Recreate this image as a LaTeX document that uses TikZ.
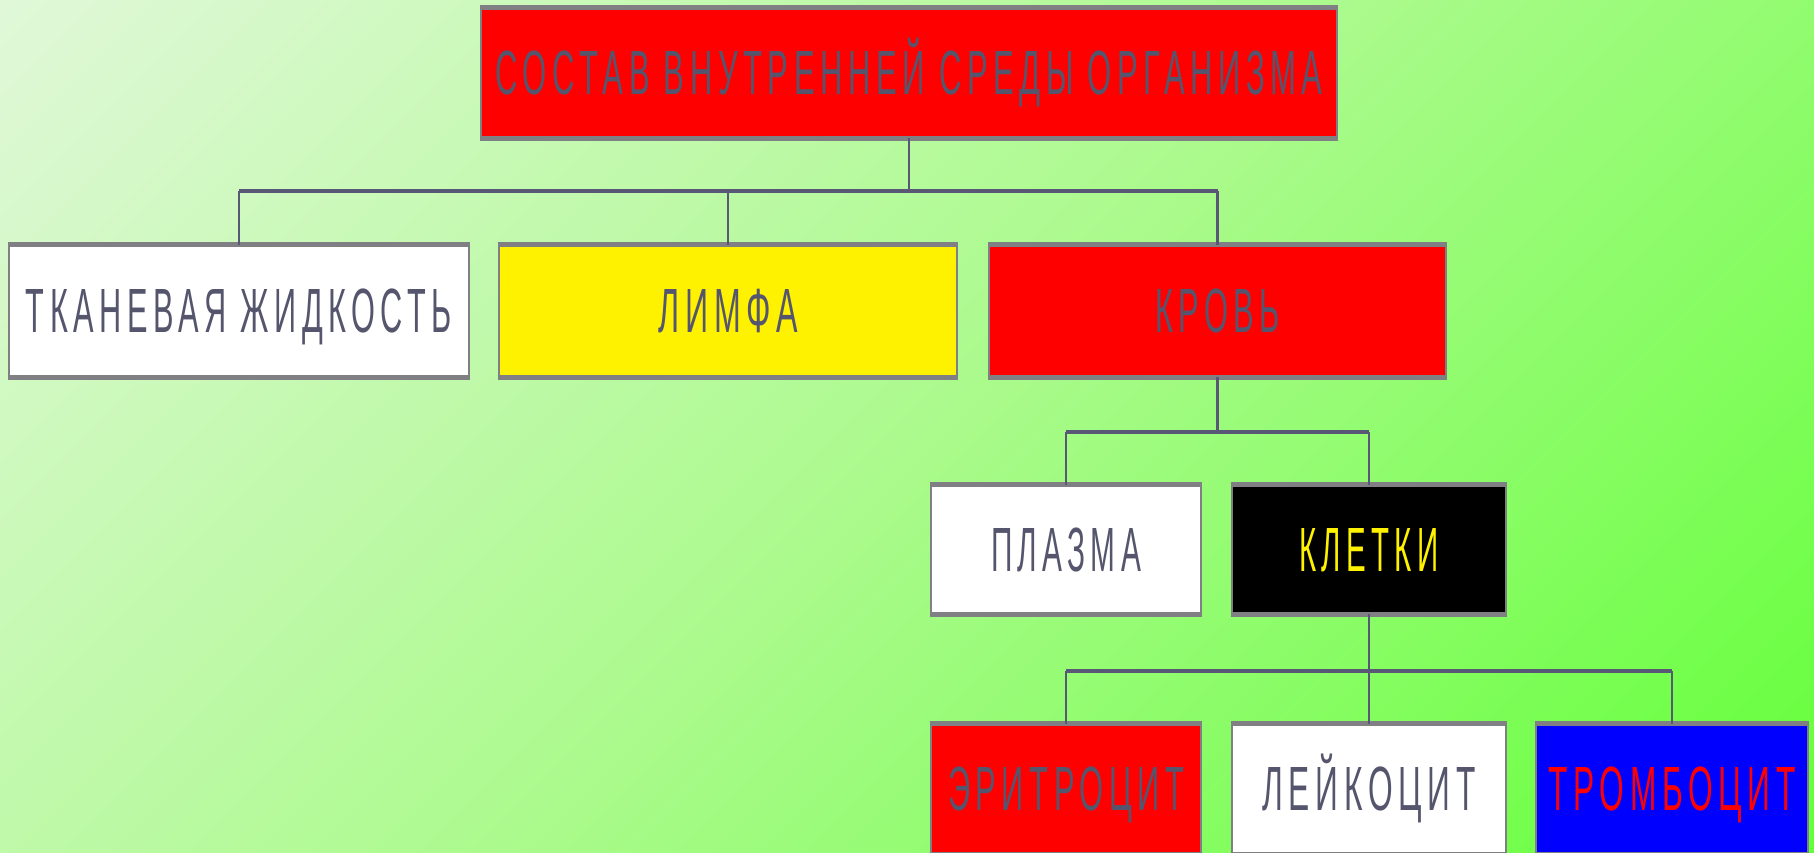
\documentclass[tikz,border=0pt]{standalone}
\usepackage{fontspec}
\usepackage{graphicx}
\newfontfamily\lblfont[LetterSpace=18]{Liberation Sans}
\newcommand{\lbl}[2]{\resizebox{#1}{21.5pt}{\lblfont\vphantom{A}\smash{#2}}}
\definecolor{conn}{RGB}{88,88,118}
\definecolor{txt}{RGB}{85,85,110}
\definecolor{bord}{RGB}{128,128,132}
\definecolor{bgA}{RGB}{224,248,216}
\definecolor{bgB}{RGB}{172,250,142}
\definecolor{bgC}{RGB}{100,255,58}
\tikzset{
  box/.style={draw=bord, line width=1.3pt, inner sep=0pt, text=txt},
  edge/.style={draw=bord, line width=2.4pt},
  vline/.style={draw=conn, line width=1.1pt},
  hline/.style={draw=conn, line width=2pt},
}
\begin{document}
\begin{tikzpicture}[x=0.5pt,y=-0.5pt]
\useasboundingbox (0,0) rectangle (1814,852);
\clip (0,0) rectangle (1814,852);
% square path so that the 45 degree shading keeps its angle
\shade[top color=bgA, bottom color=bgC, middle color=bgB, shading angle=45] (907-943,426-943) rectangle (907+943,426+943);

\node[box, fill=red, minimum width=428pt, minimum height=64pt] (top) at (909,73) {\lbl{413.5pt}{СОСТАВ ВНУТРЕННЕЙ СРЕДЫ ОРГАНИЗМА}};

\node[box, fill=white, minimum width=230pt, minimum height=65pt] (tkan) at (239,311) {\lbl{213pt}{ТКАНЕВАЯ ЖИДКОСТЬ}};
\node[box, fill=yellow, minimum width=229pt, minimum height=65pt] (limfa) at (728,311) {\lbl{69.5pt}{ЛИМФА}};
\node[box, fill=red, minimum width=228.5pt, minimum height=65pt] (krov) at (1217.5,311) {\lbl{62.5pt}{КРОВЬ}};

\node[box, fill=white, minimum width=135pt, minimum height=63.5pt] (plazma) at (1066,549.5) {\lbl{75pt}{ПЛАЗМА}};
\node[box, fill=black, text=yellow, minimum width=137pt, minimum height=63.5pt] (kletki) at (1369,549.5) {\lbl{69.5pt}{КЛЕТКИ}};

\node[box, fill=red, minimum width=135pt, minimum height=64pt] (eritro) at (1066,789) {\lbl{118pt}{ЭРИТРОЦИТ}};
\node[box, fill=white, minimum width=137pt, minimum height=64pt] (leiko) at (1369,789) {\lbl{106.5pt}{ЛЕЙКОЦИТ}};
\node[box, fill=blue, text=red, minimum width=136pt, minimum height=64pt] (trombo) at (1672,789) {\lbl{123.5pt}{ТРОМБОЦИТ}};

\foreach \n in {top,tkan,limfa,krov,plazma,kletki,eritro,leiko,trombo}
  \draw[edge] (\n.north west) -- (\n.north east) (\n.south west) -- (\n.south east);

\coordinate (bus1) at (0,191);
\coordinate (bus2) at (0,432);
\coordinate (bus3) at (0,671);

\draw[vline] (top.south) -- (top.south |- bus1);
\draw[hline] (tkan.north |- bus1) -- (krov.north |- bus1);
\draw[vline] (tkan.north |- bus1) -- (tkan.north);
\draw[vline] (limfa.north |- bus1) -- (limfa.north);
\draw[vline] (krov.north |- bus1) -- (krov.north);

\draw[vline] (krov.south) -- (krov.south |- bus2);
\draw[hline] (plazma.north |- bus2) -- (kletki.north |- bus2);
\draw[vline] (plazma.north |- bus2) -- (plazma.north);
\draw[vline] (kletki.north |- bus2) -- (kletki.north);

\draw[vline] (kletki.south) -- (kletki.south |- bus3);
\draw[hline] (eritro.north |- bus3) -- (trombo.north |- bus3);
\draw[vline] (eritro.north |- bus3) -- (eritro.north);
\draw[vline] (leiko.north |- bus3) -- (leiko.north);
\draw[vline] (trombo.north |- bus3) -- (trombo.north);
\end{tikzpicture}
\end{document}
